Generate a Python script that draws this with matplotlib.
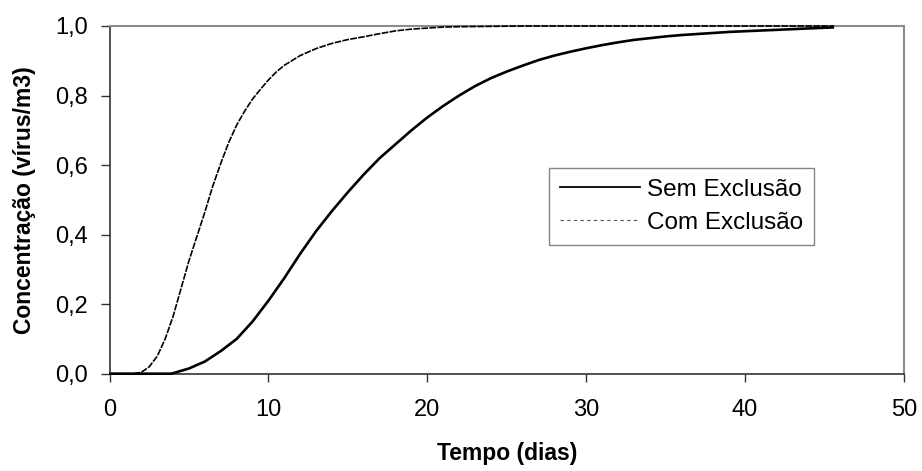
import matplotlib.pyplot as plt
from matplotlib.lines import Line2D
from matplotlib.ticker import FuncFormatter

plt.rcParams['font.family'] = ['Liberation Sans', 'DejaVu Sans']

# Concentration over time (days), without exclusion
dias_sem = [0, 1, 2, 3, 3.9, 5, 6, 7, 8, 9, 10, 11, 12, 13, 14, 15, 16, 17,
            18, 19, 20, 21, 22, 23, 24, 25, 26, 27, 28, 29, 30, 31, 32, 33,
            34, 35, 36, 37, 38, 39, 40, 41, 42, 43, 44, 45, 45.6]
conc_sem = [0, 0, 0, 0, 0, 0.015, 0.035, 0.065, 0.10, 0.15, 0.21, 0.275,
            0.345, 0.41, 0.468, 0.522, 0.573, 0.62, 0.66, 0.70, 0.737, 0.77,
            0.80, 0.827, 0.85, 0.869, 0.886, 0.902, 0.915, 0.926, 0.936,
            0.945, 0.953, 0.96, 0.965, 0.970, 0.974, 0.977, 0.980, 0.983,
            0.985, 0.987, 0.989, 0.991, 0.993, 0.995, 0.996]

# Concentration over time (days), with exclusion
dias_com = [0, 1, 1.5, 2, 2.5, 3, 3.5, 4, 4.5, 5, 5.5, 6, 6.5, 7, 7.5, 8,
            8.5, 9, 9.5, 10, 10.5, 11, 12, 13, 14, 15, 16, 17, 18, 19, 20,
            21, 22, 24, 26, 30, 35, 40, 45.6]
conc_com = [0, 0, 0, 0.004, 0.02, 0.05, 0.10, 0.165, 0.245, 0.325, 0.395,
            0.465, 0.54, 0.605, 0.665, 0.715, 0.755, 0.79, 0.818, 0.845,
            0.868, 0.887, 0.915, 0.935, 0.95, 0.961, 0.969, 0.978, 0.986,
            0.991, 0.994, 0.997, 0.998, 0.999, 1.0, 1.0, 1.0, 1.0, 1.0]

x_ticks = [0, 10, 20, 30, 40, 50]
y_ticks = [0.0, 0.2, 0.4, 0.6, 0.8, 1.0]

fig = plt.figure(figsize=(9.22, 4.71), dpi=100)
ax = fig.add_axes([0.1188, 0.2066, 0.8617, 0.7382])

ax.plot(dias_sem, conc_sem, color='black', lw=1.9, clip_on=False,
        solid_capstyle='butt', zorder=3)
ax.plot(dias_com, conc_com, color='black', lw=1.2, linestyle=(0, (4, 0.8)),
        clip_on=False, zorder=3)

ax.set_xlim(0, 50)
ax.set_ylim(0, 1)
ax.set_xticks(x_ticks)
ax.set_yticks(y_ticks)
ax.yaxis.set_major_formatter(FuncFormatter(lambda v, p: f'{v:.1f}'.replace('.', ',')))
ax.tick_params(axis='both', labelsize=17, colors='#333333', labelcolor='black',
               width=1, direction='out')
ax.tick_params(axis='x', length=5.5, pad=13)
ax.tick_params(axis='y', length=6.5, pad=9)

for side in ('left', 'bottom'):
    ax.spines[side].set_color('#333333')
    ax.spines[side].set_linewidth(1.2)
for side in ('top', 'right'):
    ax.spines[side].set_color('#8c8c8c')
    ax.spines[side].set_linewidth(1.5)

ax.set_xlabel('Tempo (dias)', fontsize=16.5, fontweight='bold')
ax.set_ylabel('Concentração (vírus/m3)', fontsize=16.5, fontweight='bold')
ax.xaxis.set_label_coords(0.5, -0.196)
ax.yaxis.set_label_coords(-0.093, 0.5)

# legend handles: plain solid and fine grey dashes
handles = [Line2D([], [], color='black', lw=1.3),
           Line2D([], [], color='#555555', lw=0.8, linestyle=(0, (3, 3)))]
leg = ax.legend(handles, ['Sem Exclusão', 'Com Exclusão'], loc='upper left',
                bbox_to_anchor=(0.553, 0.592), fontsize=17.5,
                frameon=True, fancybox=False, edgecolor='#666666',
                handlelength=3.3, handletextpad=0.3, borderpad=0.45,
                labelspacing=0.45, borderaxespad=0)
leg.get_frame().set_linewidth(1.0)

fig.savefig('out.png', dpi=100)
